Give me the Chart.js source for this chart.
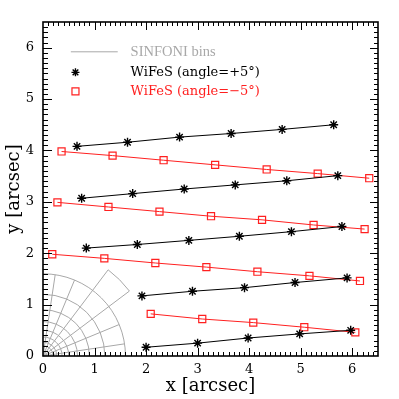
<!DOCTYPE html>
<html>
<head>
<meta charset="utf-8">
<script src="https://cdn.jsdelivr.net/npm/chart.js@4.4.1/dist/chart.umd.min.js"></script>
<style>
    html, body { margin: 0; padding: 0; background: #fff; }
    #wrap { width: 399px; height: 399px; }
</style>
</head>
<body>
<div id="wrap"><canvas id="binChart" width="399" height="399"></canvas></div>
<script>
// axis ticks
const xTicks = [0, 1, 2, 3, 4, 5, 6];
const yTicks = [0, 1, 2, 3, 4, 5, 6];

// WiFeS slit positions, angle = +5 deg (one array per slit row)
const plusRow1 = [[0.66, 4.08], [1.64, 4.16], [2.65, 4.26], [3.65, 4.33], [4.64, 4.41], [5.64, 4.50]];
const plusRow2 = [[0.75, 3.07], [1.74, 3.16], [2.74, 3.25], [3.73, 3.33], [4.73, 3.41], [5.72, 3.51]];
const plusRow3 = [[0.84, 2.10], [1.83, 2.17], [2.83, 2.25], [3.81, 2.33], [4.82, 2.42], [5.80, 2.52]];
const plusRow4 = [[1.92, 1.17], [2.90, 1.26], [3.91, 1.33], [4.89, 1.43], [5.90, 1.52]];
const plusRow5 = [[2.00, 0.17], [3.00, 0.25], [3.98, 0.35], [4.98, 0.43], [5.97, 0.50]];

// WiFeS slit positions, angle = -5 deg
const minusRow1 = [[0.36, 3.98], [1.35, 3.90], [2.34, 3.81], [3.34, 3.72], [4.34, 3.63], [5.33, 3.55], [6.33, 3.46]];
const minusRow2 = [[0.28, 2.99], [1.27, 2.90], [2.26, 2.81], [3.26, 2.72], [4.25, 2.65], [5.25, 2.55], [6.24, 2.47]];
const minusRow3 = [[0.18, 1.98], [1.19, 1.90], [2.18, 1.81], [3.17, 1.73], [4.16, 1.64], [5.17, 1.56], [6.15, 1.46]];
const minusRow4 = [[2.09, 0.82], [3.09, 0.72], [4.08, 0.65], [5.07, 0.56], [6.06, 0.46]];

// SINFONI polar bins (arcsec / degrees)
const binRadii = [1.6, 1.2, 0.9, 0.67, 0.5, 0.37, 0.27, 0.2];
const binAngles = [8.5, 22.5, 37, 53, 67.5, 81.5];
const wedgeAngles = [37, 53];
const wedgeRadius = 2.1;

const legendLabels = ['SINFONI bins', 'WiFeS (angle=+5°)', 'WiFeS (angle=\u22125°)'];

const BLACK = '#000000';
const RED = '#ff2020';
const GREY = '#a8a8a8';

function toPoints(row) {
    return row.map(p => ({ x: p[0], y: p[1] }));
}

const datasets = [];
[plusRow1, plusRow2, plusRow3, plusRow4, plusRow5].forEach(row => {
    datasets.push({
        data: toPoints(row),
        showLine: true,
        borderColor: BLACK,
        borderWidth: 1,
        pointStyle: 'star',
        pointRadius: 4.5,
        pointBorderWidth: 1.4,
        pointBorderColor: BLACK,
        pointBackgroundColor: BLACK
    });
});
[minusRow1, minusRow2, minusRow3, minusRow4].forEach(row => {
    datasets.push({
        data: toPoints(row),
        showLine: true,
        borderColor: RED,
        borderWidth: 1,
        pointStyle: 'rect',
        pointRadius: 5,
        pointBorderWidth: 1.2,
        pointBorderColor: RED,
        pointBackgroundColor: 'rgba(0,0,0,0)'
    });
});

// SINFONI bin outlines, drawn through the chart's scales
const sinfoniBins = {
    id: 'sinfoniBins',
    beforeDatasetsDraw(chart) {
        const { ctx, scales: { x, y } } = chart;
        const x0 = x.getPixelForValue(0);
        const y0 = y.getPixelForValue(0);
        const rad = a => a * Math.PI / 180;
        ctx.save();
        ctx.strokeStyle = GREY;
        ctx.lineWidth = 1;
        binRadii.forEach(r => {
            const rx = x.getPixelForValue(r) - x0;
            const ry = y0 - y.getPixelForValue(r);
            ctx.beginPath();
            ctx.ellipse(x0, y0, rx, ry, 0, -Math.PI / 2, 0);
            ctx.stroke();
        });
        const rMax = Math.max(...binRadii);
        binAngles.forEach(a => {
            const r = wedgeAngles.includes(a) ? wedgeRadius : rMax;
            ctx.beginPath();
            ctx.moveTo(x0, y0);
            ctx.lineTo(x.getPixelForValue(r * Math.cos(rad(a))), y.getPixelForValue(r * Math.sin(rad(a))));
            ctx.stroke();
        });
        // outer wedge arc
        const rx = x.getPixelForValue(wedgeRadius) - x0;
        const ry = y0 - y.getPixelForValue(wedgeRadius);
        ctx.beginPath();
        ctx.ellipse(x0, y0, rx, ry, 0, -rad(wedgeAngles[1]), -rad(wedgeAngles[0]));
        ctx.stroke();
        ctx.restore();
    }
};

// frame with inward major/minor ticks on all four sides
const frameTicks = {
    id: 'frameTicks',
    afterDatasetsDraw(chart) {
        const { ctx, chartArea: a, scales: { x, y } } = chart;
        ctx.save();
        ctx.strokeStyle = BLACK;
        ctx.lineWidth = 1;
        for (let i = 1; i < 65; i++) {
            const v = i / 10;
            const major = i % 10 === 0;
            const len = major ? 8 : 4;
            const px = Math.round(x.getPixelForValue(v)) + 0.5;
            const py = Math.round(y.getPixelForValue(v)) + 0.5;
            ctx.beginPath();
            ctx.moveTo(px, a.bottom); ctx.lineTo(px, a.bottom - len);
            ctx.moveTo(px, a.top); ctx.lineTo(px, a.top + len);
            ctx.moveTo(a.left, py); ctx.lineTo(a.left + len + 1, py);
            ctx.moveTo(a.right, py); ctx.lineTo(a.right - len, py);
            ctx.stroke();
        }
        ctx.lineWidth = 1.6;
        ctx.strokeRect(a.left, a.top, a.right - a.left, a.bottom - a.top);
        ctx.restore();
    }
};

// legend inside the plot, upper left
const insetLegend = {
    id: 'insetLegend',
    afterDraw(chart) {
        const { ctx, scales: { x, y } } = chart;
        const symX = x.getPixelForValue(0.63);
        const textX = x.getPixelForValue(1.7);
        const rowY = [5.92, 5.52, 5.15].map(v => y.getPixelForValue(v));
        ctx.save();
        ctx.textBaseline = 'middle';
        ctx.textAlign = 'left';

        ctx.strokeStyle = GREY;
        ctx.lineWidth = 1;
        ctx.beginPath();
        ctx.moveTo(x.getPixelForValue(0.54), rowY[0]);
        ctx.lineTo(x.getPixelForValue(1.45), rowY[0]);
        ctx.stroke();
        ctx.fillStyle = GREY;
        ctx.font = '14.5px "Liberation Serif"';
        ctx.fillText(legendLabels[0], textX, rowY[0]);

        ctx.strokeStyle = BLACK;
        ctx.fillStyle = BLACK;
        ctx.lineWidth = 1.4;
        Chart.helpers.drawPoint(ctx, { pointStyle: 'star', radius: 4, rotation: 0, borderWidth: 1.4 }, symX, rowY[1]);
        ctx.font = '13px "DejaVu Serif"';
        ctx.fillText(legendLabels[1], textX, rowY[1]);

        ctx.strokeStyle = RED;
        ctx.lineWidth = 1.2;
        ctx.beginPath();
        ctx.rect(symX - 3.5, rowY[2] - 3.5, 7, 7);
        ctx.stroke();
        ctx.fillStyle = RED;
        ctx.fillText(legendLabels[2], textX, rowY[2]);
        ctx.restore();
    }
};

const tickFont = { family: '"DejaVu Serif"', size: 13 };
const titleFont = { family: '"DejaVu Serif"', size: 18 };

new Chart(document.getElementById('binChart'), {
    type: 'scatter',
    data: { datasets: datasets },
    options: {
        responsive: false,
        animation: false,
        layout: { padding: { left: 0, right: 21, top: 22, bottom: 0 } },
        plugins: {
            legend: { display: false },
            tooltip: { enabled: false }
        },
        scales: {
            x: {
                type: 'linear',
                min: 0,
                max: 6.5,
                grid: { display: false, drawTicks: false },
                border: { display: false },
                afterBuildTicks: scale => { scale.ticks = xTicks.map(v => ({ value: v })); },
                afterFit: scale => { scale.height = 43; },
                ticks: { color: BLACK, font: tickFont, padding: 6, maxRotation: 0 },
                title: { display: true, text: 'x [arcsec]', color: BLACK, font: titleFont, padding: { top: 0, bottom: 2 } }
            },
            y: {
                type: 'linear',
                min: 0,
                max: 6.5,
                grid: { display: false, drawTicks: false },
                border: { display: false },
                afterBuildTicks: scale => { scale.ticks = yTicks.map(v => ({ value: v })); },
                afterFit: scale => { scale.width = 43; },
                ticks: { color: BLACK, font: tickFont, padding: 9 },
                title: { display: true, text: 'y [arcsec]', color: BLACK, font: titleFont, padding: { top: 4, bottom: 0 } }
            }
        }
    },
    plugins: [sinfoniBins, frameTicks, insetLegend]
});
</script>
</body>
</html>
